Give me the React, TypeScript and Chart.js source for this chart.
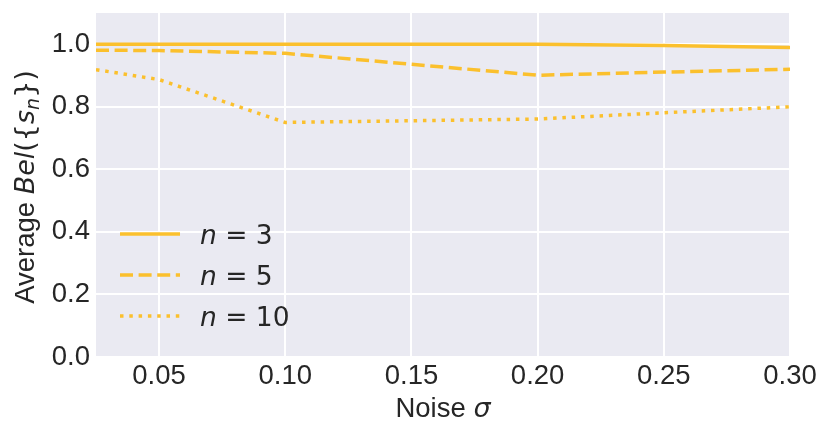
import React, { useEffect, useRef } from "react";
import { Chart, registerables } from "chart.js";

Chart.register(...registerables);

const noise = [0.025, 0.05, 0.1, 0.2, 0.25, 0.3];
const bel3 = [1.0, 1.0, 1.0, 1.0, 0.996, 0.99];
const bel5 = [0.981, 0.98, 0.971, 0.901, 0.911, 0.92];
const bel10 = [0.919, 0.887, 0.75, 0.761, 0.781, 0.8];
const seriesN = ["3", "5", "10"];
const xTicks = [0.05, 0.1, 0.15, 0.2, 0.25, 0.3];
const yTicks = [0.0, 0.2, 0.4, 0.6, 0.8, 1.0];

const LINE_COLOR = "#FBC02D";
const BG = "#EAEAF2";
const TEXT = "#262626";
const SANS = '"Liberation Sans", Arial, sans-serif';
const MATH = '"DejaVu Sans", sans-serif';

type Seg = { t: string; f: string; dy?: number };

function segWidth(ctx: CanvasRenderingContext2D, segs: Seg[]) {
  let w = 0;
  for (const s of segs) {
    ctx.font = s.f;
    w += ctx.measureText(s.t).width;
  }
  return w;
}

function drawSegs(ctx: CanvasRenderingContext2D, segs: Seg[], x: number, y: number) {
  let cx = x;
  for (const s of segs) {
    ctx.font = s.f;
    ctx.fillText(s.t, cx, y + (s.dy || 0));
    cx += ctx.measureText(s.t).width;
  }
}

const decorPlugin = {
  id: "decor",
  beforeDraw(chart: any) {
    const { ctx, chartArea } = chart;
    ctx.save();
    ctx.fillStyle = BG;
    ctx.fillRect(chartArea.left, chartArea.top, chartArea.right - chartArea.left, chartArea.bottom - chartArea.top);
    ctx.restore();
  },
  afterDraw(chart: any) {
    const { ctx, chartArea } = chart;
    ctx.save();
    ctx.fillStyle = TEXT;
    ctx.textAlign = "left";
    ctx.textBaseline = "alphabetic";

    // x title
    const xSegs: Seg[] = [
      { t: "Noise ", f: `27.5px ${SANS}` },
      { t: "σ", f: `italic 27px ${MATH}` },
    ];
    const xw = segWidth(ctx, xSegs);
    drawSegs(ctx, xSegs, (chartArea.left + chartArea.right) / 2 - xw / 2, 409);

    // y title
    const ySegs: Seg[] = [
      { t: "Average ", f: `27.5px ${SANS}` },
      { t: "Bel", f: `italic 27px ${MATH}` },
      { t: "({", f: `27px ${MATH}` },
      { t: "s", f: `italic 27px ${MATH}` },
      { t: "n", f: `italic 19px ${MATH}`, dy: 5 },
      { t: "})", f: `27px ${MATH}` },
    ];
    const yw = segWidth(ctx, ySegs);
    ctx.save();
    ctx.translate(26, (chartArea.top + chartArea.bottom) / 2 + 2);
    ctx.rotate(-Math.PI / 2);
    drawSegs(ctx, ySegs, -yw / 2, 0);
    ctx.restore();

    // legend
    chart.data.datasets.forEach((ds: any, i: number) => {
      const ly = chartArea.bottom - 123 + 41 * i;
      ctx.save();
      ctx.strokeStyle = ds.borderColor;
      ctx.lineWidth = ds.borderWidth;
      ctx.setLineDash(ds.borderDash || []);
      ctx.beginPath();
      ctx.moveTo(chartArea.left + 24, ly);
      ctx.lineTo(chartArea.left + 84, ly);
      ctx.stroke();
      ctx.restore();
      ctx.fillStyle = TEXT;
      drawSegs(
        ctx,
        [
          { t: "n", f: `italic 26.5px ${MATH}` },
          { t: " = " + seriesN[i], f: `26.5px ${MATH}` },
        ],
        chartArea.left + 104,
        ly + 10
      );
    });
    ctx.restore();
  },
};

export default function App() {
  const ref = useRef<HTMLCanvasElement | null>(null);
  useEffect(() => {
    if (!ref.current) return;
    const mk = (vals: number[]) => noise.map((x, i) => ({ x, y: vals[i] }));
    const chart = new Chart(ref.current, {
      type: "line",
      data: {
        datasets: [
          { label: "n = 3", data: mk(bel3), borderColor: LINE_COLOR, borderWidth: 3.5, pointRadius: 0, tension: 0, borderDash: [] },
          { label: "n = 5", data: mk(bel5), borderColor: LINE_COLOR, borderWidth: 3.5, pointRadius: 0, tension: 0, borderDash: [13, 5.6] },
          { label: "n = 10", data: mk(bel10), borderColor: LINE_COLOR, borderWidth: 3.5, pointRadius: 0, tension: 0, borderDash: [3.5, 5.8] },
        ],
      },
      options: {
        animation: false,
        responsive: false,
        maintainAspectRatio: false,
        layout: { padding: { left: 0, right: 33, top: 5, bottom: 0 } },
        plugins: { legend: { display: false }, tooltip: { enabled: false } },
        scales: {
          x: {
            type: "linear",
            min: 0.025,
            max: 0.3,
            afterBuildTicks: (s: any) => {
              s.ticks = xTicks.map((v) => ({ value: v }));
            },
            afterFit: (s: any) => {
              s.height = 72;
              s.paddingLeft = 0;
              s.paddingRight = 0;
            },
            ticks: {
              callback: (v: any) => Number(v).toFixed(2),
              font: { family: SANS, size: 27.5 },
              color: TEXT,
              padding: 3,
              maxRotation: 0,
              autoSkip: false,
            },
            grid: { color: "#FFFFFF", lineWidth: 2, drawTicks: false },
            border: { display: false },
          },
          y: {
            type: "linear",
            min: 0,
            max: 1.1,
            afterBuildTicks: (s: any) => {
              s.ticks = yTicks.map((v) => ({ value: v }));
            },
            afterFit: (s: any) => {
              s.width = 88;
              s.paddingTop = 0;
              s.paddingBottom = 0;
            },
            ticks: {
              callback: (v: any) => Number(v).toFixed(1),
              font: { family: SANS, size: 27.5 },
              color: TEXT,
              padding: 6,
              autoSkip: false,
            },
            grid: { color: "#FFFFFF", lineWidth: 2, drawTicks: false },
            border: { display: false },
          },
        },
      },
      plugins: [decorPlugin],
    });
    return () => chart.destroy();
  }, []);
  return (
    <div style={{ width: 815, height: 421 }}>
      <canvas ref={ref} width={815} height={421} style={{ display: "block" }} />
    </div>
  );
}
